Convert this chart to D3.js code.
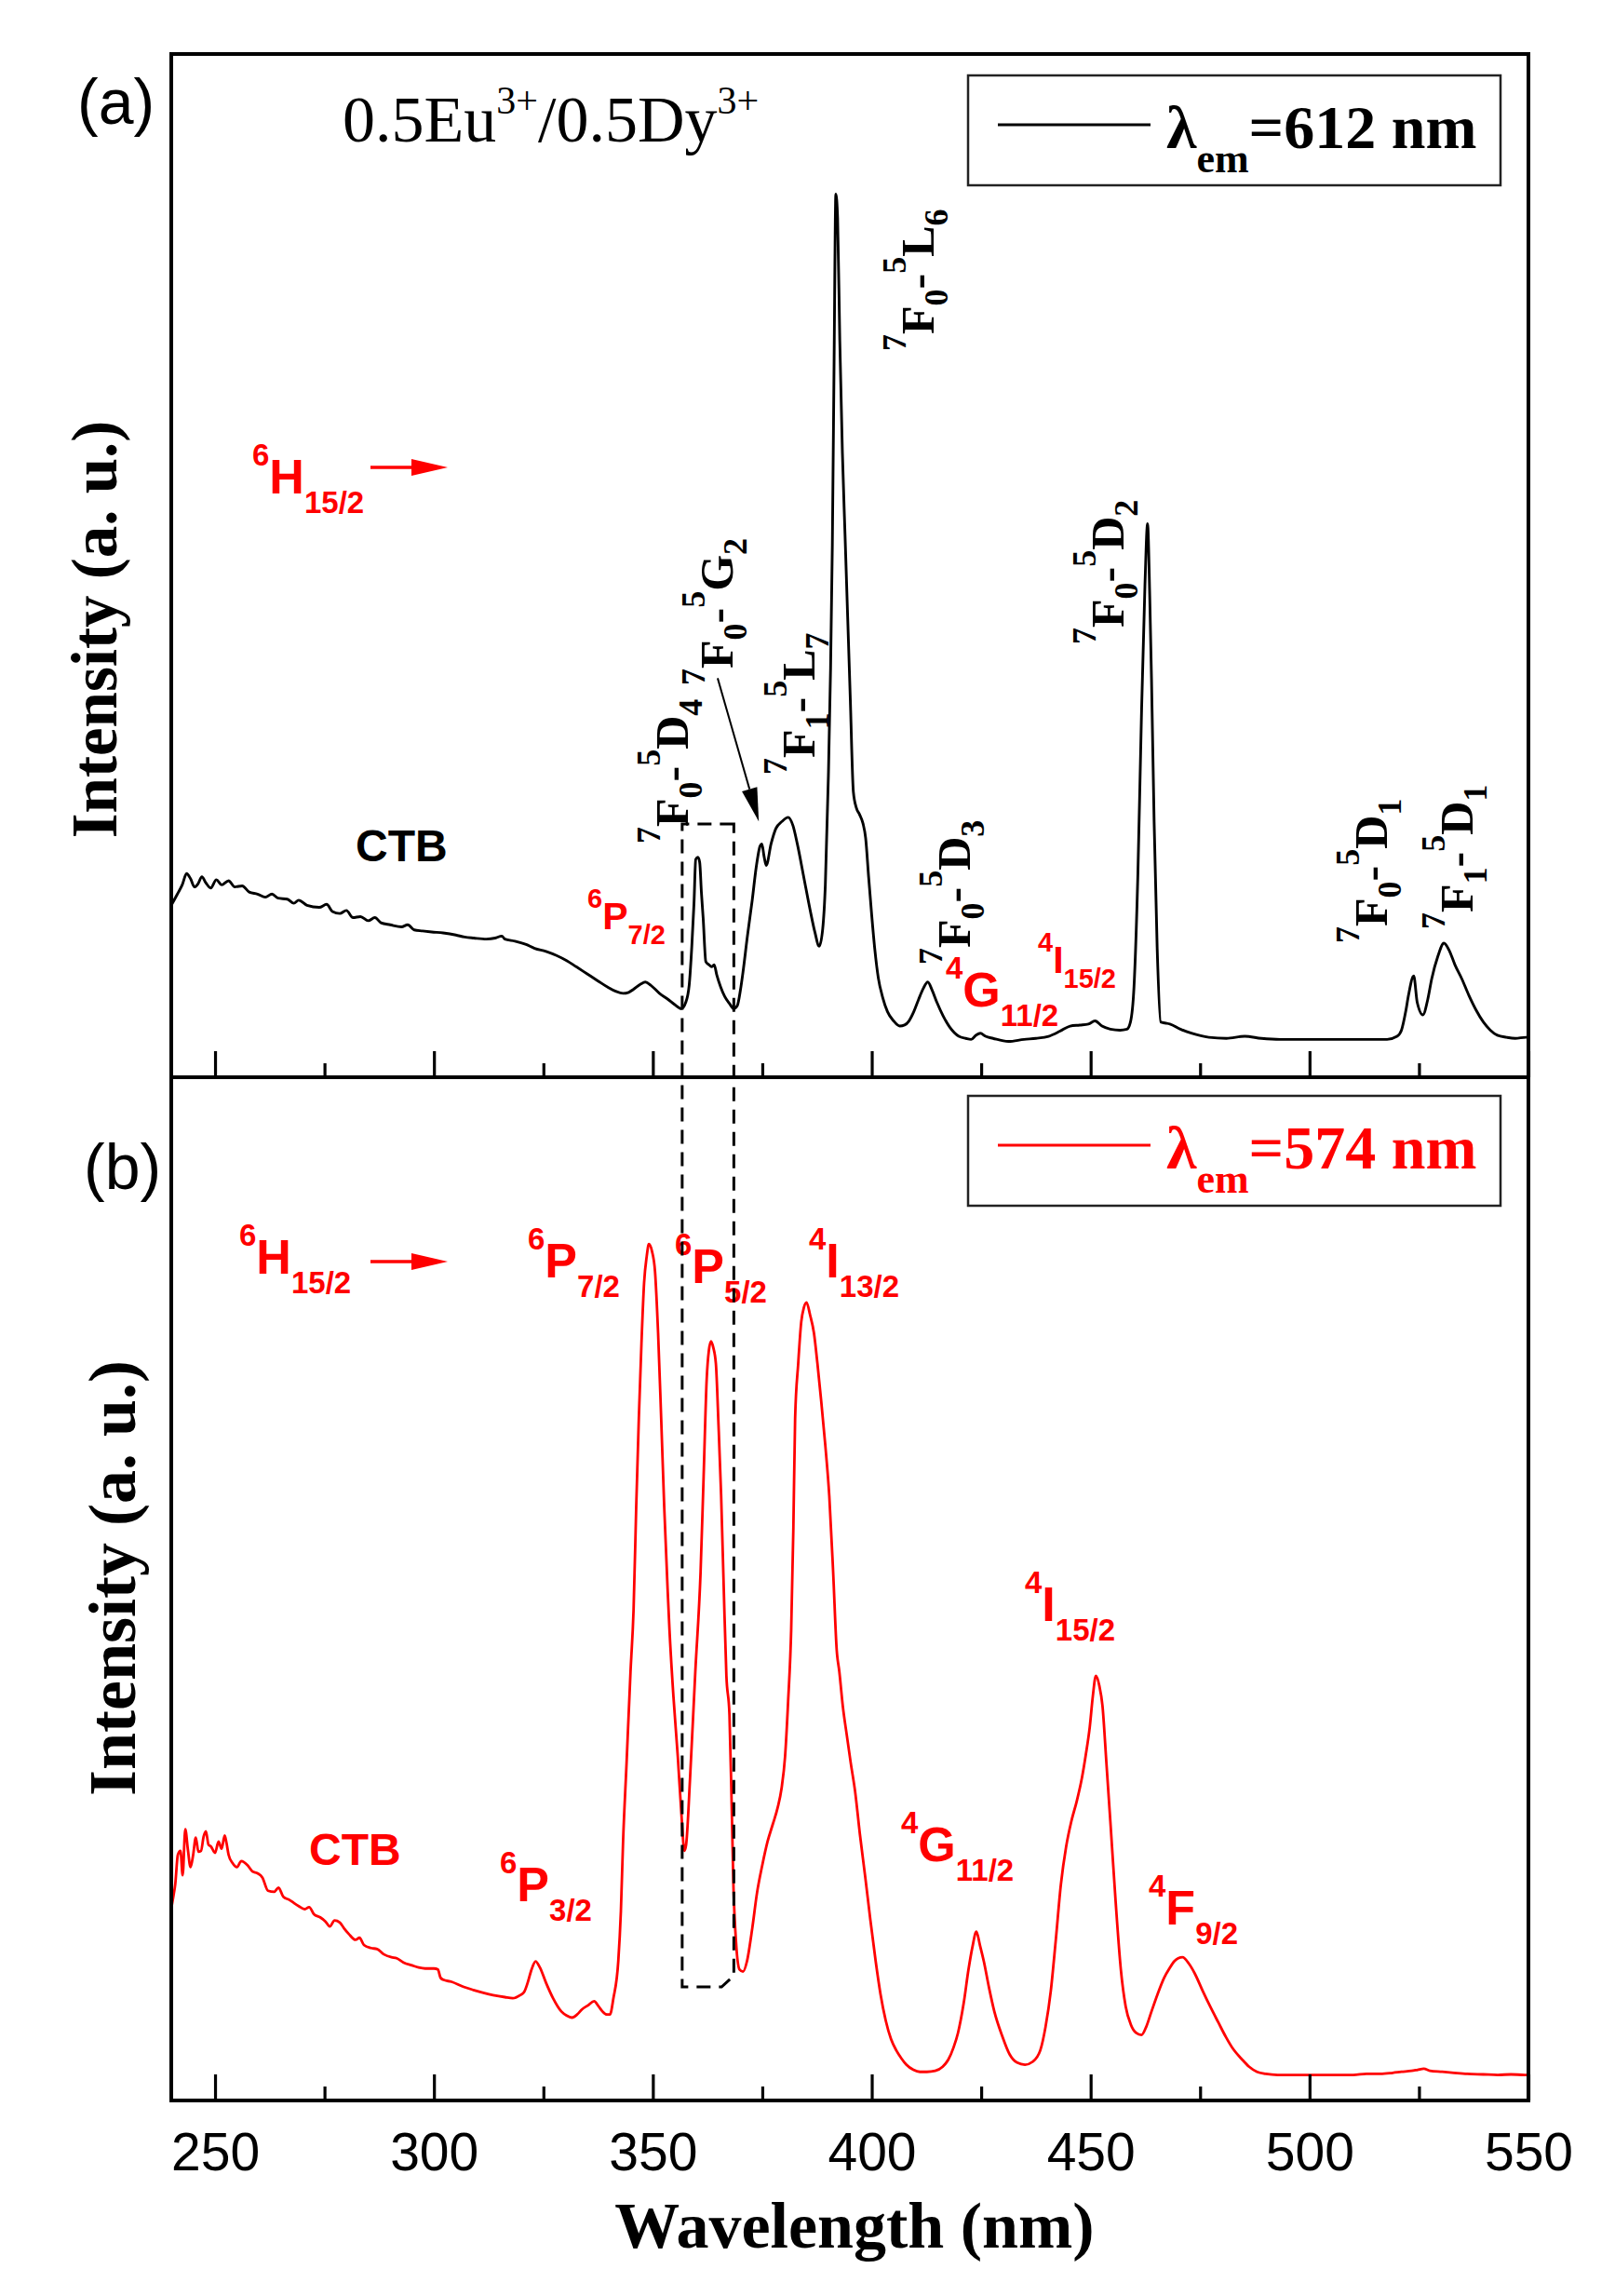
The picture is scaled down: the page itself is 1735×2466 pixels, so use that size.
<!DOCTYPE html>
<html><head><meta charset="utf-8">
<script src="https://cdn.jsdelivr.net/npm/d3@7"></script>
<style>body{margin:0;background:#fff}</style>
</head><body>
<svg id="chart" width="1735" height="2466"></svg>
<script>
// ---------------- DATA ----------------
const wavelengthA = [240.0,241.4,242.5,243.5,244.4,245.3,246.1,247.0,247.9,249.0,250.3,251.5,253.1,254.5,256.2,257.8,259.7,261.5,263.0,264.4,266.5,268.0,269.1,271.0,273.8,275.5,276.8,278.5,280.0,281.5,283.2,285.0,286.5,287.9,290.0,292.6,294.0,295.5,297.4,299.5,302.1,305.0,307.0,309.1,312.0,314.0,315.5,316.2,318.5,320.9,323.0,325.6,328.0,330.3,332.5,335.0,337.5,339.7,341.5,343.2,344.5,345.6,347.2,348.3,349.5,351.5,353.5,355.0,356.5,357.5,358.3,358.9,359.4,359.8,360.3,360.7,361.1,361.5,362.1,362.8,363.5,364.0,364.6,365.5,366.4,367.5,368.5,369.3,370.0,370.6,371.6,372.7,373.6,374.5,374.9,375.4,375.9,377.0,378.1,379.5,380.9,382.0,383.0,384.5,385.9,387.0,388.0,388.8,389.4,390.1,390.6,391.0,391.4,391.8,392.2,392.7,393.3,393.9,394.5,395.1,395.8,396.5,397.2,398.0,398.6,399.3,400.0,400.7,401.5,402.5,403.6,405.0,406.4,407.5,408.5,409.6,410.7,411.8,412.8,413.8,414.9,416.3,417.8,419.9,421.5,422.7,423.8,424.8,426.0,427.7,431.2,434.8,437.5,440.4,443.0,445.3,447.5,449.5,451.0,452.6,454.5,456.7,458.3,459.1,459.9,460.8,461.6,462.4,463.0,463.5,463.9,464.5,465.2,466.0,467.0,468.1,470.5,473.0,477.0,481.0,485.2,489.0,493.3,500.0,505.5,512.0,517.7,520.0,521.0,522.0,522.6,523.8,524.6,525.9,527.0,527.9,529.3,530.7,532.0,533.2,534.8,536.4,538.0,539.7,541.3,542.9,545.0,547.0,549.4,550.0];
const intensityA = [16.8,17.9,18.8,19.9,19.4,18.6,18.9,19.6,19.0,18.5,19.3,18.8,19.2,18.6,18.7,18.1,17.9,17.6,17.9,17.5,17.4,17.0,17.3,16.8,16.6,16.9,16.2,16.0,16.3,15.6,15.7,15.3,15.6,15.1,14.9,14.7,14.9,14.4,14.3,14.2,14.1,13.9,13.7,13.6,13.5,13.6,13.8,13.5,13.3,13.0,12.6,12.3,11.9,11.4,10.8,10.1,9.4,8.8,8.4,8.2,8.3,8.6,9.1,9.3,9.0,8.2,7.6,7.1,6.7,7.3,9.0,12.8,17.0,21.3,21.5,21.0,18.0,15.5,11.3,11.0,10.8,11.0,10.0,8.8,7.9,7.2,6.7,7.0,8.5,10.3,13.8,17.3,20.5,22.6,22.8,21.6,20.7,22.8,24.3,25.0,25.4,24.6,22.8,19.5,16.4,14.2,12.8,14.5,18.8,29.5,40.0,52.0,70.0,86.3,84.0,72.0,61.0,53.0,45.0,37.0,27.9,26.3,25.7,24.8,23.4,19.5,15.8,12.5,9.7,7.8,6.4,5.5,5.0,5.1,5.5,6.4,7.6,8.7,9.3,8.5,7.3,6.0,4.9,4.0,3.8,3.7,4.1,4.3,4.0,3.8,3.5,3.7,3.8,4.0,4.5,5.0,5.1,5.2,5.5,5.0,4.7,4.6,4.7,5.4,8.8,20.0,35.2,48.0,54.1,47.0,39.0,25.0,12.6,5.4,5.3,5.2,4.7,4.3,3.9,3.8,4.0,3.8,3.7,3.7,3.7,3.7,3.7,4.0,4.6,6.5,8.0,9.9,7.3,6.1,7.6,9.6,11.8,13.1,12.3,11.0,9.6,8.0,6.6,5.4,4.6,4.1,3.9,3.8,3.9,3.9];

const wavelengthB = [240.0,240.5,240.9,241.5,242.1,242.6,243.2,243.8,244.4,245.0,245.6,246.2,246.8,247.4,247.9,248.5,249.1,250.0,250.8,251.5,252.2,252.6,253.1,254.0,255.0,256.0,257.4,258.5,259.7,260.8,262.1,263.5,264.5,265.6,267.0,268.0,269.1,270.5,271.5,272.6,274.0,275.2,276.2,277.3,278.5,279.5,280.5,282.1,283.0,284.0,285.6,287.0,288.5,290.3,291.5,293.0,295.0,296.5,298.0,300.0,300.9,301.5,302.1,304.0,306.8,309.0,311.5,313.5,316.2,318.0,319.7,320.6,321.4,322.3,323.2,324.2,325.6,327.2,329.1,330.3,331.5,332.7,333.8,335.2,336.6,337.6,338.5,339.5,340.2,341.0,342.1,342.7,343.2,344.0,344.9,345.6,346.2,346.8,347.4,348.0,348.6,349.1,349.8,350.5,351.2,351.9,352.6,353.4,353.8,354.7,355.7,356.6,357.2,357.6,358.5,359.7,360.9,361.6,362.3,362.8,363.3,363.8,364.4,365.0,365.6,366.2,366.8,367.5,368.0,368.4,369.0,369.8,370.6,371.5,372.7,373.8,375.0,376.2,377.4,378.5,379.4,380.2,380.9,381.6,382.1,382.5,383.2,383.9,384.5,385.1,385.9,386.8,387.6,388.4,389.4,390.3,391.2,392.0,392.6,393.4,394.3,395.2,396.2,397.3,398.5,399.7,400.9,402.0,403.2,404.4,405.6,406.8,407.9,409.5,411.0,412.6,414.5,416.2,417.5,418.7,419.7,421.0,422.1,423.0,423.9,424.7,425.6,426.8,428.0,429.8,431.5,433.2,435.0,436.8,438.5,439.7,440.9,442.0,443.2,444.4,445.6,446.8,448.0,448.9,449.8,450.5,451.2,452.0,452.7,453.6,454.5,455.7,456.9,458.0,459.2,460.4,461.6,462.7,463.9,465.3,466.8,468.0,469.1,470.0,471.0,472.4,473.8,475.6,477.4,479.2,480.9,482.6,484.4,486.2,488.0,490.0,492.7,496.0,500.0,503.5,506.8,510.0,513.0,516.2,519.0,521.0,523.3,524.7,526.1,527.5,530.3,533.0,536.0,539.7,543.0,546.0,549.1,550.0];
const intensityB = [18.8,20.0,21.1,24.0,24.4,22.0,26.5,24.5,22.8,24.0,25.7,24.3,24.4,25.8,26.3,25.0,24.8,24.2,25.3,24.6,25.9,25.2,24.0,23.2,22.8,23.4,23.0,22.4,22.2,21.8,20.5,20.4,20.8,19.9,19.6,19.3,19.0,18.7,18.9,18.2,17.9,17.5,17.0,17.6,17.4,16.8,16.3,15.7,15.9,15.2,14.9,14.8,14.3,14.0,13.9,13.5,13.2,13.0,12.9,12.9,12.8,12.0,11.8,11.6,11.1,10.8,10.5,10.3,10.1,10.0,10.3,10.6,11.5,12.8,13.6,13.0,11.5,10.0,8.7,8.3,8.1,8.4,8.9,9.3,9.7,9.2,8.7,8.4,8.4,10.0,13.6,18.5,25.3,33.0,41.9,48.0,58.0,66.7,74.0,79.9,82.5,83.7,83.0,81.0,75.0,66.7,58.0,49.7,46.0,39.5,33.6,27.5,24.4,25.0,31.5,41.9,51.6,61.0,70.5,73.3,74.2,73.6,72.0,66.0,59.1,50.0,41.5,37.7,29.0,21.1,15.5,12.8,12.6,13.6,16.8,20.3,23.0,25.3,27.0,28.6,30.5,33.6,39.0,46.0,56.0,66.7,72.0,76.1,77.5,78.0,76.8,75.0,72.0,68.6,64.0,59.1,51.5,44.0,41.9,38.5,35.7,33.0,30.2,26.0,21.9,17.6,13.6,10.4,7.8,6.0,4.9,4.1,3.5,3.0,2.8,2.8,2.9,3.3,4.0,5.2,6.6,9.5,12.8,15.0,16.5,15.2,13.6,11.0,8.7,6.3,4.5,3.7,3.5,3.8,4.9,7.2,10.7,15.5,21.1,24.8,27.3,29.2,31.5,33.8,36.5,39.5,41.5,40.5,38.6,33.0,27.3,19.5,12.8,9.2,7.4,6.6,6.4,7.2,8.7,10.4,12.0,12.9,13.6,13.9,14.0,13.4,12.4,10.7,9.1,7.6,6.2,5.0,4.1,3.3,2.8,2.6,2.5,2.5,2.5,2.5,2.5,2.5,2.6,2.6,2.7,2.8,2.9,3.0,3.1,2.9,2.8,2.7,2.6,2.55,2.5,2.55,2.5,2.5];

const majorTicks = [250, 300, 350, 400, 450, 500, 550];
const minorTicks = [275, 325, 375, 425, 475, 525];
const xDomain = [240, 550];
const yDomain = [0, 100];

// ---------------- LAYOUT ----------------
const L = 184, R = 1642, TOP_A = 58, MID = 1157, BOT_B = 2256;
const svg = d3.select('#chart');
svg.append('rect').attr('width', 1735).attr('height', 2466).attr('fill', '#fff');

const x = d3.scaleLinear().domain(xDomain).range([L, R]);
const yA = d3.scaleLinear().domain(yDomain).range([MID, TOP_A]);
const yB = d3.scaleLinear().domain(yDomain).range([BOT_B, MID]);

const SERIF = "'Liberation Serif','Times New Roman',serif";
const SANS = "'Liberation Sans',Arial,sans-serif";
const RED = '#ff0000';

const defs = svg.append('defs');
defs.append('clipPath').attr('id', 'clipA').append('rect').attr('x', L).attr('y', TOP_A).attr('width', R - L).attr('height', MID - TOP_A);
defs.append('clipPath').attr('id', 'clipB').append('rect').attr('x', L).attr('y', MID).attr('width', R - L).attr('height', BOT_B - MID);

// curves
const dataA = wavelengthA.map((w, i) => [w, intensityA[i]]);
const dataB = wavelengthB.map((w, i) => [w, intensityB[i]]);
const lineA = d3.line().x(d => x(d[0])).y(d => yA(d[1])).curve(d3.curveMonotoneX);
const lineB = d3.line().x(d => x(d[0])).y(d => yB(d[1])).curve(d3.curveMonotoneX);

svg.append('path').attr('d', lineA(dataA)).attr('fill', 'none').attr('stroke', '#000')
  .attr('stroke-width', 2.9).attr('stroke-linejoin', 'round').attr('clip-path', 'url(#clipA)');
svg.append('path').attr('d', lineB(dataB)).attr('fill', 'none').attr('stroke', RED)
  .attr('stroke-width', 2.8).attr('stroke-linejoin', 'round').attr('clip-path', 'url(#clipB)');

// axes (inward ticks)
function drawAxis(yPos, labels) {
  const gMaj = svg.append('g').attr('transform', `translate(0,${yPos})`)
    .call(d3.axisBottom(x).tickValues(majorTicks).tickSize(-28).tickPadding(35)
      .tickFormat(labels ? d3.format('d') : () => ''));
  gMaj.select('.domain').remove();
  gMaj.selectAll('line').attr('stroke', '#000').attr('stroke-width', 3.2);
  gMaj.selectAll('text').attr('font-family', SANS).attr('font-size', 57).attr('fill', '#000');
  const gMin = svg.append('g').attr('transform', `translate(0,${yPos})`)
    .call(d3.axisBottom(x).tickValues(minorTicks).tickSize(-15).tickFormat(() => ''));
  gMin.select('.domain').remove();
  gMin.selectAll('line').attr('stroke', '#000').attr('stroke-width', 3.2);
}
drawAxis(MID, false);
drawAxis(BOT_B, true);

// frame
svg.append('rect').attr('x', L).attr('y', TOP_A).attr('width', R - L).attr('height', BOT_B - TOP_A)
  .attr('fill', 'none').attr('stroke', '#000').attr('stroke-width', 4);
svg.append('line').attr('x1', L).attr('x2', R).attr('y1', MID).attr('y2', MID)
  .attr('stroke', '#000').attr('stroke-width', 4);

// ---------------- TEXT HELPERS ----------------
function rich(parent, px, py, parts, o) {
  const t = parent.append('text')
    .attr('font-family', o.family).attr('font-weight', o.weight || 'bold')
    .attr('fill', o.color || '#000');
  if (o.rotate) t.attr('transform', `translate(${px},${py}) rotate(-90)`).attr('x', 0).attr('y', 0);
  else t.attr('x', px).attr('y', py);
  let cur = 0;
  parts.forEach(([s, r]) => {
    const off = r === 'sup' ? o.sup : r === 'sub' ? o.sub : 0;
    t.append('tspan').attr('dy', off - cur).attr('font-size', r === 'main' ? o.main : o.small).text(s);
    cur = off;
  });
  return t;
}

// panel tags
svg.append('text').attr('x', 83).attr('y', 133).attr('font-family', SANS).attr('font-size', 68).text('(a)');
svg.append('text').attr('x', 90).attr('y', 1277).attr('font-family', SANS).attr('font-size', 68).text('(b)');

// sample composition
rich(svg, 368, 152, [['0.5Eu', 'main'], ['3+', 'sup'], ['/0.5Dy', 'main'], ['3+', 'sup']],
  {family: SERIF, weight: 'normal', main: 70, small: 42, sup: -30, sub: 0});

// axis titles
svg.append('text').attr('transform', 'translate(125,676) rotate(-90)').attr('text-anchor', 'middle')
  .attr('font-family', SERIF).attr('font-weight', 'bold').attr('font-size', 69).text('Intensity (a. u.)');
svg.append('text').attr('transform', 'translate(145,1695) rotate(-90)').attr('text-anchor', 'middle')
  .attr('font-family', SERIF).attr('font-weight', 'bold').attr('font-size', 72).text('Intensity (a. u.)');
svg.append('text').attr('x', 918).attr('y', 2414).attr('text-anchor', 'middle')
  .attr('font-family', SERIF).attr('font-weight', 'bold').attr('font-size', 70).text('Wavelength (nm)');

// legends
function legend(top, color, label) {
  svg.append('rect').attr('x', 1040).attr('y', top).attr('width', 572).attr('height', 118)
    .attr('fill', '#fff').attr('stroke', '#222').attr('stroke-width', 2.5);
  svg.append('line').attr('x1', 1072).attr('x2', 1236).attr('y1', top + 53).attr('y2', top + 53)
    .attr('stroke', color).attr('stroke-width', 3);
  rich(svg, 1253, top + 78, [['λ', 'main'], ['em', 'sub'], [label, 'main']],
    {family: SERIF, main: 66, small: 44, sup: 0, sub: 26, color: color});
}
legend(81, '#000', '=612 nm');
legend(1177, RED, '=574 nm');

// Eu3+ transition labels (rotated, panel a)
const euOpts = {family: SERIF, main: 50, small: 36, sup: -30, sub: 15, rotate: true};
const euLabels = [
  {px: 1003, py: 377, parts: [['7','sup'],['F','main'],['0','sub'],['-','main'],['5','sup'],['L','main'],['6','sub']]},
  {px: 787, py: 736, parts: [['7','sup'],['F','main'],['0','sub'],['-','main'],['5','sup'],['G','main'],['2','sub']]},
  {px: 739, py: 906, parts: [['7','sup'],['F','main'],['0','sub'],['-','main'],['5','sup'],['D','main'],['4','sub']]},
  {px: 875, py: 832, parts: [['7','sup'],['F','main'],['1','sub'],['-','main'],['5','sup'],['L','main'],['7','sub']]},
  {px: 1042, py: 1036, parts: [['7','sup'],['F','main'],['0','sub'],['-','main'],['5','sup'],['D','main'],['3','sub']]},
  {px: 1207, py: 692, parts: [['7','sup'],['F','main'],['0','sub'],['-','main'],['5','sup'],['D','main'],['2','sub']]},
  {px: 1490, py: 1013, parts: [['7','sup'],['F','main'],['0','sub'],['-','main'],['5','sup'],['D','main'],['1','sub']]},
  {px: 1582, py: 998, parts: [['7','sup'],['F','main'],['1','sub'],['-','main'],['5','sup'],['D','main'],['1','sub']]}
];
euLabels.forEach(l => rich(svg, l.px, l.py, l.parts, euOpts));

// Dy3+ labels (red)
const big = {family: SANS, main: 52, small: 33, sup: -30, sub: 21, color: RED};
const small = {family: SANS, main: 41, small: 29, sup: -23, sub: 16, color: RED};
const dyLabels = [
  {px: 271, py: 530, parts: [['6','sup'],['H','main'],['15/2','sub']], o: big},
  {px: 631, py: 998, parts: [['6','sup'],['P','main'],['7/2','sub']], o: small},
  {px: 1016, py: 1081, parts: [['4','sup'],['G','main'],['11/2','sub']], o: big},
  {px: 1115, py: 1045, parts: [['4','sup'],['I','main'],['15/2','sub']], o: small},
  {px: 257, py: 1368, parts: [['6','sup'],['H','main'],['15/2','sub']], o: big},
  {px: 567, py: 1372, parts: [['6','sup'],['P','main'],['7/2','sub']], o: big},
  {px: 725, py: 1378, parts: [['6','sup'],['P','main'],['5/2','sub']], o: big},
  {px: 869, py: 1372, parts: [['4','sup'],['I','main'],['13/2','sub']], o: big},
  {px: 1101, py: 1741, parts: [['4','sup'],['I','main'],['15/2','sub']], o: big},
  {px: 968, py: 1999, parts: [['4','sup'],['G','main'],['11/2','sub']], o: big},
  {px: 1234, py: 2067, parts: [['4','sup'],['F','main'],['9/2','sub']], o: big},
  {px: 537, py: 2042, parts: [['6','sup'],['P','main'],['3/2','sub']], o: big}
];
dyLabels.forEach(l => rich(svg, l.px, l.py, l.parts, l.o));

svg.append('text').attr('x', 382).attr('y', 925).attr('font-family', SANS).attr('font-weight', 'bold')
  .attr('font-size', 48).attr('fill', '#000').text('CTB');
svg.append('text').attr('x', 332).attr('y', 2003).attr('font-family', SANS).attr('font-weight', 'bold')
  .attr('font-size', 48).attr('fill', RED).text('CTB');

// red arrows
function redArrow(y) {
  svg.append('line').attr('x1', 398).attr('x2', 446).attr('y1', y).attr('y2', y)
    .attr('stroke', RED).attr('stroke-width', 3.5);
  svg.append('path').attr('d', `M442,${y - 9}L481,${y}L442,${y + 9}Z`).attr('fill', RED);
}
redArrow(502);
redArrow(1355);

// dashed box linking the two panels
const boxNm = [356.7, 368.5];
const boxTopA = 24.75, boxBotB = 11.1, boxCornerNm = 365.7, boxCornerB = 12.2;
const bx0 = x(boxNm[0]), bx1 = x(boxNm[1]);
svg.append('path')
  .attr('d', `M${bx1},${yA(boxTopA)}L${bx0},${yA(boxTopA)}L${bx0},${yB(boxBotB)}L${x(boxCornerNm)},${yB(boxBotB)}L${bx1},${yB(boxCornerB)}Z`)
  .attr('fill', 'none').attr('stroke', '#000').attr('stroke-width', 3).attr('stroke-dasharray', '15,9');

// black arrow to 7F0-5G2 band
const arrowFrom = [364.8, 39.0], arrowTo = [374.2, 25.0];
const ax0 = x(arrowFrom[0]), ay0 = yA(arrowFrom[1]), ax1 = x(arrowTo[0]), ay1 = yA(arrowTo[1]);
const ang = Math.atan2(ay1 - ay0, ax1 - ax0);
const hl = 36, hw = 8.5;
const bxA = ax1 - hl * Math.cos(ang), byA = ay1 - hl * Math.sin(ang);
svg.append('line').attr('x1', ax0).attr('y1', ay0).attr('x2', bxA).attr('y2', byA)
  .attr('stroke', '#000').attr('stroke-width', 2);
svg.append('path').attr('d',
  `M${ax1},${ay1}L${bxA - hw * Math.sin(ang)},${byA + hw * Math.cos(ang)}L${bxA + hw * Math.sin(ang)},${byA - hw * Math.cos(ang)}Z`)
  .attr('fill', '#000');
</script>
</body></html>
